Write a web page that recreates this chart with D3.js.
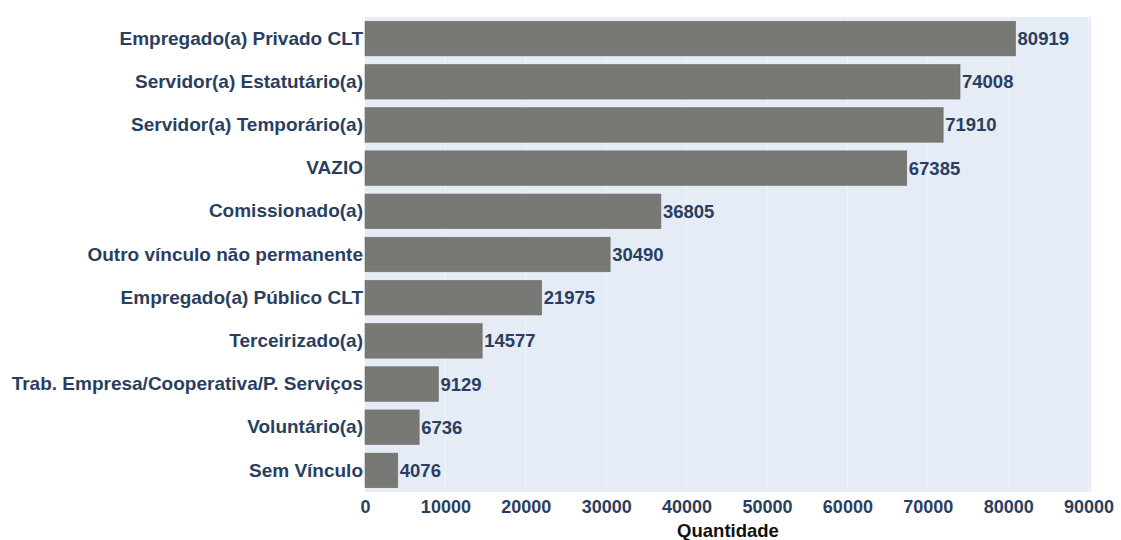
<!DOCTYPE html>
<html>
<head>
<meta charset="utf-8">
<script src="https://cdn.jsdelivr.net/npm/d3@7"></script>
<style>
  body { margin: 0; background: #fff; }
  text { font-family: "Liberation Sans", Arial, sans-serif; font-weight: bold; }
</style>
</head>
<body>
<script>
// data
var categories = [
  "Empregado(a) Privado CLT",
  "Servidor(a) Estatutário(a)",
  "Servidor(a) Temporário(a)",
  "VAZIO",
  "Comissionado(a)",
  "Outro vínculo não permanente",
  "Empregado(a) Público CLT",
  "Terceirizado(a)",
  "Trab. Empresa/Cooperativa/P. Serviços",
  "Voluntário(a)",
  "Sem Vínculo"
];
var values = [80919, 74008, 71910, 67385, 36805, 30490, 21975, 14577, 9129, 6736, 4076];
var xTicks = [0, 10000, 20000, 30000, 40000, 50000, 60000, 70000, 80000, 90000];

var width = 1121, height = 540;
var plotLeft = 365, plotRight = 1091, plotTop = 17, plotBottom = 492;

var svg = d3.select("body")
  .append("svg")
  .attr("width", width)
  .attr("height", height);

var xScale = d3.scaleLinear()
  .domain([0, 90300])
  .range([plotLeft, plotRight]);

var yScale = d3.scaleBand()
  .domain(categories)
  .range([plotTop, plotBottom])
  .paddingInner(0.2)
  .paddingOuter(0.1);

// plot background
svg.append("rect")
  .attr("x", plotLeft)
  .attr("y", plotTop)
  .attr("width", plotRight - plotLeft)
  .attr("height", plotBottom - plotTop)
  .attr("fill", "#e5ecf6");

// grid
svg.selectAll("line.grid")
  .data(xTicks.slice(1))
  .enter()
  .append("line")
  .attr("class", "grid")
  .attr("x1", function(d) { return xScale(d); })
  .attr("x2", function(d) { return xScale(d); })
  .attr("y1", plotTop)
  .attr("y2", plotBottom)
  .attr("stroke", "#f0f4fa")
  .attr("stroke-width", 1);

// bars
svg.selectAll("rect.bar")
  .data(values)
  .enter()
  .append("rect")
  .attr("class", "bar")
  .attr("x", xScale(0))
  .attr("y", function(d, i) { return yScale(categories[i]); })
  .attr("width", function(d) { return xScale(d) - xScale(0); })
  .attr("height", yScale.bandwidth())
  .attr("fill", "#787875")
  .attr("stroke", "#6e6e6b")
  .attr("stroke-width", 0.6);

// value labels
svg.selectAll("text.val")
  .data(values)
  .enter()
  .append("text")
  .attr("class", "val")
  .attr("x", function(d) { return xScale(d) + 2; })
  .attr("y", function(d, i) { return yScale(categories[i]) + yScale.bandwidth() / 2; })
  .attr("dy", "0.35em")
  .attr("fill", "#2a3f5f")
  .attr("font-size", 18.5)
  .text(function(d) { return d; });

// y axis
var yAxis = d3.axisLeft(yScale).tickSize(0).tickPadding(2);
var gy = svg.append("g")
  .attr("transform", "translate(" + plotLeft + ",0)")
  .call(yAxis);
gy.select(".domain").remove();
gy.selectAll("text")
  .attr("fill", "#2a3f5f")
  .attr("font-size", 19)
  .attr("font-family", "Liberation Sans, Arial, sans-serif");

// x axis
var xAxis = d3.axisBottom(xScale).tickValues(xTicks).tickSize(0).tickPadding(8)
  .tickFormat(function(d) { return d; });
var gx = svg.append("g")
  .attr("transform", "translate(0," + plotBottom + ")")
  .call(xAxis);
gx.select(".domain").remove();
gx.selectAll("text")
  .attr("fill", "#2a3f5f")
  .attr("font-size", 18)
  .attr("font-family", "Liberation Sans, Arial, sans-serif");

// axis title
svg.append("text")
  .attr("x", (plotLeft + plotRight) / 2)
  .attr("y", 537)
  .attr("text-anchor", "middle")
  .attr("fill", "#111")
  .attr("font-size", 18.5)
  .text("Quantidade");
</script>
</body>
</html>
